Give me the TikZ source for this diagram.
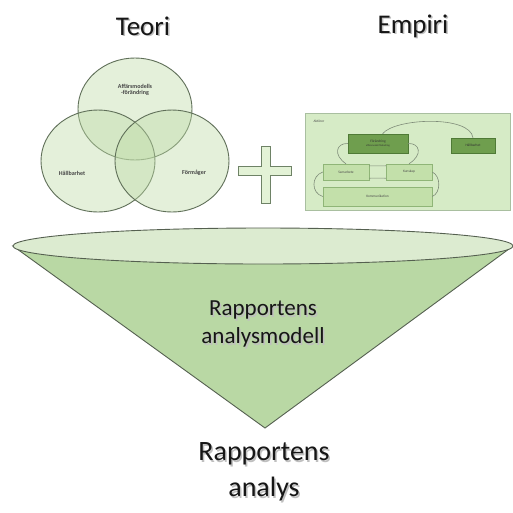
\documentclass[tikz,border=0pt]{standalone}
\usepackage{fontspec}
\setmainfont{Carlito}
\usetikzlibrary{shapes.geometric,calc}
\definecolor{vennfill}{HTML}{BFDCA8}
\definecolor{venndraw}{HTML}{5F6F58}
\definecolor{boxbg}{HTML}{D6EBC6}
\definecolor{boxedge}{HTML}{A9BFA0}
\definecolor{darkbox}{HTML}{6F9E4E}
\definecolor{darkboxedge}{HTML}{4F7A36}
\definecolor{lightbox}{HTML}{C3E0AA}
\definecolor{lightboxedge}{HTML}{8FB577}
\definecolor{conefill}{HTML}{B9D8A4}
\definecolor{conetop}{HTML}{DCEBD0}
\definecolor{coneedge}{HTML}{556050}
\definecolor{plusfill}{HTML}{E3F2D6}
\definecolor{plusedge}{HTML}{6E8266}
\definecolor{txt}{HTML}{161616}
\tikzset{
  venn/.style={ellipse, draw=venndraw, line width=0.9pt, fill=vennfill, fill opacity=0.42, minimum width=114pt, minimum height=102pt, inner sep=0pt},
  vlabel/.style={font=\fontsize{6}{6.5}\selectfont\bfseries, text=txt!80, align=center},
  title/.style={font=\fontsize{27}{29}\selectfont, text=txt, align=center},
  conelabel/.style={font=\fontsize{23}{28}\selectfont, text=txt, align=center},
  bottomlabel/.style={font=\fontsize{28}{36}\selectfont, text=txt, align=center},
  dbox/.style={draw=darkboxedge, fill=darkbox, line width=0.5pt, inner sep=0pt, font=\fontsize{3.5}{4}\selectfont, text=black!80, align=center},
  lbox/.style={draw=lightboxedge, fill=lightbox, line width=0.5pt, inner sep=0pt, font=\fontsize{3.5}{4}\selectfont, text=black!70, align=center},
  link/.style={draw=venndraw!80, line width=0.6pt},
  shadowtxt/.style={text=black!25}
}
\begin{document}
\begin{tikzpicture}[x=1pt,y=-1pt]
\useasboundingbox (0,0) rectangle (513,512);
\fill[white] (0,0) rectangle (513,512);

% Titles
\node[title,shadowtxt] at (144.5,27.5) {Teori};
\node[title] (teori) at (143,26) {Teori};
\node[title,shadowtxt] at (414.5,27.5) {Empiri};
\node[title] (empiri) at (413,26) {Empiri};

% Venn diagram
\node[venn] (vtop) at (135,109) {};
\node[venn] (vleft) at (98,161) {};
\node[venn] (vright) at (172,161) {};
\node[vlabel] (ltop) at (135,90) {Affärsmodells\\-förändring};
\node[vlabel] (lleft) at (72,173) {Hållbarhet};
\node[vlabel] (lright) at (194,173) {Förmåger};

% Plus sign
\filldraw[fill=plusfill, draw=plusedge, line width=0.8pt]
  (261,146) -- (270,146) -- (270,166) -- (291,166) -- (291,175) -- (270,175)
  -- (270,203) -- (261,203) -- (261,175) -- (238,175) -- (238,166) -- (261,166) -- cycle;

% Empiri box
\node[draw=boxedge, fill=boxbg, line width=0.8pt, minimum width=205pt, minimum height=97pt, inner sep=0pt] (ebox) at (407.5,161.5) {};
\node[font=\fontsize{3.5}{4}\selectfont, text=black!70, anchor=west] (elabel) at (310,121) {Aktörer};
\node[dbox, minimum width=60pt, minimum height=19pt] (d1) at (378,143.5) {Förändring\\[-0.5pt]{\fontsize{2.5}{3}\selectfont affärsmodell förändring}};
\node[dbox, minimum width=44pt, minimum height=15pt] (d2) at (473,145.5) {Hållbarhet};
\node[lbox, minimum width=46pt, minimum height=16pt] (l1) at (346,172) {Samarbete};
\node[lbox, minimum width=46pt, minimum height=16pt] (l2) at (409,172) {Kunskap};
\node[lbox, minimum width=109pt, minimum height=19pt] (l3) at (377.5,196.5) {Kommunikation};

\draw[link] (d1.65) .. controls (395,118) and (470,115) .. (d2.north);
\draw[link] (d1.west) .. controls (336,143) and (333,155) .. (l1.north);
\draw[link] (d1.east) .. controls (420,143) and (423,155) .. (l2.north);
\draw[link] (l1.15) .. controls (373,166) and (382,166) .. (l2.165);
\draw[link] (l1.-15) .. controls (373,178) and (382,178) .. (l2.-165);
\draw[link] (l1.west) .. controls (311,176) and (311,193) .. (l3.west);
\draw[link] (l2.east) .. controls (441,176) and (441,193) .. (l3.east);

% Cone
\coordinate (cl) at (13,246);
\coordinate (cr) at (513,246);
\coordinate (apex) at (265,428);
\filldraw[fill=conefill, draw=coneedge, line width=0.9pt] (cl) -- (apex) -- (cr) -- cycle;
\filldraw[fill=conetop, draw=coneedge, line width=0.9pt] (263,246) ellipse [x radius=250pt, y radius=18pt];

\node[conelabel,shadowtxt] at (264.5,325.5) {Rapportens\\analysmodell};
\node[conelabel] (model) at (263,324) {Rapportens\\analysmodell};

\node[bottomlabel,shadowtxt] at (265.5,473.5) {Rapportens\\analys};
\node[bottomlabel] (analys) at (264,472) {Rapportens\\analys};
\end{tikzpicture}
\end{document}
